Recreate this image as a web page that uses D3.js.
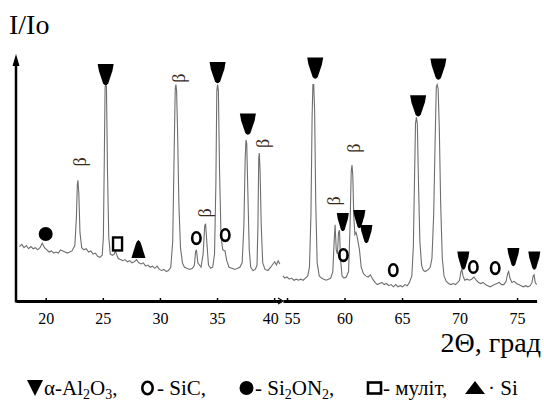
<!DOCTYPE html>
<html>
<head>
<meta charset="utf-8">
<script src="https://cdn.jsdelivr.net/npm/d3@7"></script>
<style>
body{margin:0;background:#fff}
svg{display:block}
text{font-family:"Liberation Serif","Times New Roman",serif;fill:#000}
</style>
</head>
<body>
<svg id="chart" width="544" height="410"></svg>
<script>
// XRD scan, [2theta (deg), I/Io (%)]
let leftScan = [
 [17.7,25.5],[17.9,26.5],[18.1,25],[18.3,26],[18.5,24.5],[18.7,25.5],[18.9,24.5],[19.1,25],
 [19.3,24],[19.5,25],[19.7,27],[19.9,25],[20.1,24],[20.3,23],[20.5,23.5],[20.7,22.5],
 [20.9,23],[21.1,22.5],[21.3,24],[21.5,23.5],[21.7,23],[21.9,22.5],[22.1,23],[22.3,23.5],
 [22.55,26],[22.68,38],[22.77,54],[22.82,56],[22.9,50],[23.0,32],[23.15,25],[23.35,24],
 [23.55,24.5],[23.75,23],[23.95,23.5],[24.15,22],[24.35,22.5],[24.55,21],[24.75,20.5],[24.95,21.5],
 [25.05,30],[25.13,65],[25.2,99],[25.26,100],[25.32,99],[25.41,60],[25.52,30],[25.65,22],
 [25.85,21.5],[26.0,22],[26.1,23.5],[26.2,22],[26.35,20],[26.55,19.5],[26.75,19],[26.95,19.5],
 [27.15,18.5],[27.35,19],[27.55,18],[27.75,18.5],[27.95,19.5],[28.15,18],[28.35,17.5],[28.55,18],
 [28.75,16.5],[28.95,17],[29.15,16],[29.35,16.5],[29.55,15.5],[29.75,16.5],[29.95,15],[30.15,14.5],
 [30.35,15],[30.55,14],[30.75,14.5],[30.95,16],[31.12,28],[31.25,70],[31.34,98],[31.4,100],
 [31.46,97],[31.54,80],[31.66,45],[31.8,25],[31.97,18],[32.15,16],[32.35,15.5],[32.6,15],
 [32.85,15.5],[33.02,17],[33.12,23],[33.2,24],[33.32,18],[33.6,16],[33.78,22],[33.92,35],
 [34.0,36],[34.1,28],[34.25,17],[34.45,15.5],[34.62,16],[34.78,22],[34.9,55],[34.98,97],
 [35.05,100],[35.12,97],[35.22,60],[35.35,30],[35.5,24],[35.7,23.5],[35.85,19],[36.05,16],
 [36.3,15.5],[36.55,15],[36.8,15.5],[37.0,16],[37.2,18],[37.35,35],[37.46,65],[37.53,74.5],
 [37.6,73],[37.7,50],[37.82,24],[37.95,16],[38.15,14.5],[38.35,15],[38.5,17],[38.58,35],
 [38.65,66],[38.7,68.5],[38.77,60],[38.87,35],[39.0,18],[39.2,15],[39.45,14.5],[39.7,16],
 [39.9,17.5],[40.05,18.5],[40.2,17],[40.35,19],[40.5,17.5]
]
let rightScan = [
 [54.65,12],[54.8,11],[55.0,11.5],[55.2,10.5],[55.4,11],[55.6,10],[55.8,10.5],[56.0,10],
 [56.2,10.5],[56.4,10],[56.6,11],[56.8,12],[56.95,16],[57.08,40],[57.18,85],[57.25,100],
 [57.32,100],[57.4,88],[57.5,45],[57.62,18],[57.8,12],[58.0,11],[58.2,10.5],[58.4,10],
 [58.6,10.5],[58.8,11],[58.98,14],[59.1,28],[59.18,35.5],[59.28,24],[59.38,22],[59.48,32],
 [59.56,33],[59.65,20],[59.78,12],[59.95,11],[60.15,11.5],[60.35,14],[60.48,35],[60.58,60],
 [60.65,63],[60.72,58],[60.8,40],[60.9,31],[61.0,32],[61.1,30],[61.2,27],[61.3,24],
 [61.45,16],[61.65,13],[61.85,12],[62.05,11.5],[62.25,12.5],[62.45,10.5],[62.65,9],[62.85,8],
 [63.05,8.5],[63.25,9],[63.45,8],[63.65,8.5],[63.85,7.5],[64.05,8],[64.25,7],[64.45,8],
 [64.65,7],[64.85,7.5],[65.05,7],[65.25,8],[65.45,7.5],[65.65,9],[65.85,12],[65.98,25],
 [66.08,55],[66.17,82],[66.25,85],[66.33,82],[66.43,55],[66.55,28],[66.7,17],[66.85,14.5],
 [67.0,14],[67.15,14.5],[67.3,15],[67.45,16],[67.6,20],[67.75,40],[67.88,75],[67.98,99],
 [68.06,100],[68.14,98],[68.24,80],[68.36,45],[68.5,20],[68.65,12],[68.85,9.5],[69.05,8.5],
 [69.25,8],[69.45,8.5],[69.65,8],[69.85,9],[70.0,10],[70.12,14],[70.2,15],[70.3,12],
 [70.45,10],[70.65,10.5],[70.85,10],[71.05,10.5],[71.25,11.5],[71.45,10],[71.65,9],[71.85,8.5],
 [72.05,9],[72.25,8],[72.45,7.5],[72.65,7],[72.85,7.5],[73.05,8],[73.25,8.5],[73.45,9],
 [73.65,8],[73.85,8],[74.05,9.5],[74.18,13],[74.27,14],[74.38,11],[74.55,9],[74.75,9.5],
 [74.95,8.5],[75.15,8],[75.35,7.5],[75.55,7],[75.75,7.5],[75.95,7],[76.15,7.5],[76.3,9],
 [76.4,12],[76.48,12.5],[76.58,9],[76.7,8]
]
let leftTicks = [20,25,30,35,40]
let rightTicks = [55,60,65,70,75]

// phase labels, [2theta, level of the label]
let aluminaMajor = [[25.25,104.4],[35.05,105.3],[37.7,81.6],[57.45,107.4],[66.4,90],[68.16,107]]
let aluminaMinor = [[59.85,36.6],[61.29,38],[61.9,31],[70.33,18.9],[74.68,20.5],[76.5,18.9]]
let sicPeaks = [[33.19,29.4],[35.72,30.8],[59.9,21.6],[64.24,14.7],[71.2,16.1],[73.1,15.6]]
let si2on2Peaks = [[20.0,31.3]]
let mullitePeaks = [[26.29,26.7]]
let siPeaks = [[28.12,24.4]]
let betaPeaks = [[22.97,64.4],[31.7,103],[39.04,73],[33.97,41],[60.85,70.8],[59.1,46.5]]

let legendItems = [
  {sym:"alumina", parts:[["α-Al"],["2",1],["O"],["3",1],[","]]},
  {sym:"sic", parts:[["- SiC,"]]},
  {sym:"si2on2", parts:[["-  Si"],["2",1],["ON"],["2",1],[","]]},
  {sym:"mullite", parts:[["- муліт,"]]},
  {sym:"si", parts:[["· Si"]]}
]

let serif = '"Liberation Serif","Times New Roman",serif'
let svg = d3.select("#chart")
let xLeft = d3.scaleLinear().domain([17.4,40.6]).range([16,281])
let xRight = d3.scaleLinear().domain([54.65,76.7]).range([283,536.6])
let y = d3.scaleLinear().domain([0,115]).range([302,52])
function xPos(t){ return t < 47 ? xLeft(t) : xRight(t) }

// scan lines
let line = function (sc){
  return d3.line().x(function (d){return sc(d[0])}).y(function (d){return y(d[1])})
}
svg.append("path").attr("d",line(xLeft)(leftScan))
  .attr("fill","none").attr("stroke","#6e6e6e").attr("stroke-width",1.1)
svg.append("path").attr("d",line(xRight)(rightScan))
  .attr("fill","none").attr("stroke","#6e6e6e").attr("stroke-width",1.1)

// axes
function styleAxis(g){
  g.attr("font-family",serif)
  g.select(".domain").attr("stroke","#000").attr("stroke-width",3)
  g.selectAll(".tick line").attr("stroke","#000").attr("stroke-width",1.5)
  g.selectAll(".tick text").style("font-size","16px").style("font-family",serif)
}
svg.append("g").attr("transform","translate(0,301)")
  .call(d3.axisBottom(xLeft).tickValues(leftTicks).tickSizeInner(-3).tickSizeOuter(0).tickPadding(12))
  .call(styleAxis)
  .selectAll(".tick text").attr("dx",function (d){return d==40 ? -4 : 0})
svg.append("g").attr("transform","translate(0,301)")
  .call(d3.axisBottom(xRight).tickValues(rightTicks).tickSizeInner(-3).tickSizeOuter(0).tickPadding(12))
  .call(styleAxis)
  .selectAll(".tick text").attr("dx",function (d){return d==55 ? 5 : 0})
// axis break
svg.append("path").attr("d","M278,298 L283,301 L278,304")
  .attr("fill","none").attr("stroke","#000").attr("stroke-width",1.2)

svg.append("line").attr("x1",16).attr("x2",16).attr("y1",302.5).attr("y2",64)
  .attr("stroke","#000").attr("stroke-width",2.5)
svg.append("path").attr("d","M16,54 L19.5,66 L12.5,66 Z").attr("fill","#000")

svg.append("text").attr("x",9).attr("y",34).style("font-size","28px").style("font-family",serif).text("I/Io")
svg.append("text").attr("x",541).attr("y",352).attr("text-anchor","end")
  .style("font-size","28px").style("font-family",serif).text("2Θ, град")

// symbols
function shield(w,h){
  return `M${-w/2},${-h/2} L${w/2},${-h/2} L${w*0.42},${-h*0.18} L${w*0.16},${h/2-2.5}`+
    ` Q0,${h/2+1} ${-w*0.16},${h/2-2.5} L${-w*0.42},${-h*0.18} Z`
}
svg.selectAll(".alMaj").data(aluminaMajor).enter().append("path")
  .attr("class","alMaj")
  .attr("transform",function (d){return `translate(${xPos(d[0])},${y(d[1])})`})
  .attr("d",shield(16,22)).attr("fill","#000")
svg.selectAll(".alMin").data(aluminaMinor).enter().append("path")
  .attr("class","alMin")
  .attr("transform",function (d){return `translate(${xPos(d[0])},${y(d[1])})`})
  .attr("d",shield(12,19)).attr("fill","#000")
svg.selectAll(".sic").data(sicPeaks).enter().append("ellipse")
  .attr("class","sic")
  .attr("cx",function (d){return xPos(d[0])}).attr("cy",function (d){return y(d[1])})
  .attr("rx",4.2).attr("ry",5.8)
  .attr("fill","none").attr("stroke","#000").attr("stroke-width",2.6)
svg.selectAll(".sion").data(si2on2Peaks).enter().append("circle")
  .attr("class","sion")
  .attr("cx",function (d){return xPos(d[0])}).attr("cy",function (d){return y(d[1])})
  .attr("r",7).attr("fill","#000")
svg.selectAll(".mul").data(mullitePeaks).enter().append("rect")
  .attr("class","mul")
  .attr("x",function (d){return xPos(d[0])-4.5}).attr("y",function (d){return y(d[1])-6.5})
  .attr("width",9).attr("height",13)
  .attr("fill","none").attr("stroke","#000").attr("stroke-width",2.4)
svg.selectAll(".si").data(siPeaks).enter().append("path")
  .attr("class","si")
  .attr("transform",function (d){return `translate(${xPos(d[0])},${y(d[1])})`})
  .attr("d","M0,-9 Q2,-8 3,-4 L7,9 L-7,9 L-3,-4 Q-2,-8 0,-9 Z").attr("fill","#000")
svg.selectAll(".beta").data(betaPeaks).enter().append("text")
  .attr("class","beta")
  .attr("transform",function (d){return `translate(${xPos(d[0])},${y(d[1])}) rotate(-90)`})
  .attr("text-anchor","middle").attr("dominant-baseline","central")
  .style("font-size","18px").style("font-family",serif).style("fill","#3a2a1a")
  .text("β")

// legend
let legendSym = {
  alumina: function (g){ g.append("path").attr("d","M27,380 L43,380 L35,396 Z").attr("fill","#000") },
  sic: function (g){ g.append("ellipse").attr("cx",147.5).attr("cy",388).attr("rx",5.2).attr("ry",6.2)
    .attr("fill","none").attr("stroke","#000").attr("stroke-width",2.6) },
  si2on2: function (g){ g.append("circle").attr("cx",246.5).attr("cy",388).attr("r",7).attr("fill","#000") },
  mullite: function (g){ g.append("rect").attr("x",368).attr("y",382.5).attr("width",13).attr("height",11)
    .attr("fill","none").attr("stroke","#000").attr("stroke-width",2.6) },
  si: function (g){ g.append("path").attr("d","M475,381 L485,394 L465,394 Z").attr("fill","#000") }
}
let legendX = [44,157,255,383,488]
let legend = svg.append("g")
legendItems.forEach(function (item,i){
  legendSym[item.sym](legend)
  let t = legend.append("text").attr("x",legendX[i]).attr("y",395)
    .style("font-size","21px").style("font-family",serif)
  let prev = 0
  item.parts.forEach(function (p){
    let cur = p[1] ? 4 : 0
    t.append("tspan").style("font-size",p[1] ? "14px" : "21px")
      .attr("dy",cur-prev).text(p[0])
    prev = cur
  })
})
</script>
</body>
</html>
